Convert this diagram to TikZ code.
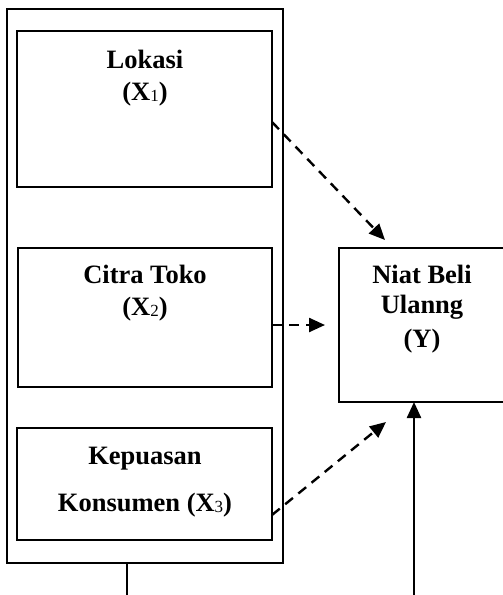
\documentclass[tikz,border=0pt]{standalone}
\usepackage{fontspec}
\setmainfont{Liberation Serif}
\usetikzlibrary{arrows.meta,calc}
\newcommand{\sbx}[1]{\raisebox{-1.5pt}{\mdseries\fontsize{17}{17}\selectfont #1}}
\begin{document}
\begin{tikzpicture}[x=1pt,y=-1pt,
  box/.style={draw,line width=2.5pt,inner sep=0pt,outer sep=0pt},
  outerbox/.style={draw,line width=1.6pt,inner sep=0pt,outer sep=0pt},
  lbl/.style={font=\bfseries\fontsize{26.5}{30}\selectfont,anchor=base,inner sep=0pt},
  darr/.style={line width=2.4pt,dash pattern=on 10pt off 7pt,-{Triangle[length=16pt,width=14pt]}},
  sarr/.style={line width=2.4pt,-{Triangle[length=16pt,width=14pt]}}]
\useasboundingbox (0,0) rectangle (503,595);
\clip (0,0) rectangle (503,595);
\node[outerbox,minimum width=276pt,minimum height=554pt] (outer) at (145,286) {};
\node[box,minimum width=255pt,minimum height=156pt] (b1) at (144.5,109) {};
\node[box,minimum width=254pt,minimum height=139pt] (b2) at (145,317.5) {};
\node[box,minimum width=255pt,minimum height=112pt] (b3) at (144.5,484) {};
\node[box,minimum width=190pt,minimum height=154pt] (y) at (434,325) {};
\node[lbl] (t1a) at (145,68) {Lokasi};
\node[lbl] (t1b) at (145,100) {(X\sbx{1})};
\node[lbl] (t2a) at (145,283) {Citra Toko};
\node[lbl] (t2b) at (145,315) {(X\sbx{2})};
\node[lbl] (t3a) at (145,464) {Kepuasan};
\node[lbl] (t3b) at (145,511) {Konsumen (X\sbx{3})};
\node[lbl] (tya) at (422,283) {Niat Beli};
\node[lbl] (tyb) at (422,313) {Ulanng};
\node[lbl] (tyc) at (422,347) {(Y)};
\coordinate (a1s) at ($(b1.east)+(0,13)$);
\coordinate (a1e) at ($(y.north west)+(46,-8)$);
\coordinate (a2s) at ($(b2.east)+(0,7.5)$);
\coordinate (a2e) at ($(y.west)+(-14,0)$);
\coordinate (a3s) at ($(b3.east)+(0,31)$);
\coordinate (a3e) at ($(y.south west)+(47,20)$);
\coordinate (ys) at (414,600);
\coordinate (ye) at (414,402);
\coordinate (os) at (127,600);
\draw[darr] (a1s) -- (a1e);
\draw[darr] (a2s) -- (a2e);
\draw[darr] (a3s) -- (a3e);
\draw[sarr] (ys) -- (ye);
\draw[line width=1.6pt] (outer.south -| os) -- (os);
\end{tikzpicture}
\end{document}
